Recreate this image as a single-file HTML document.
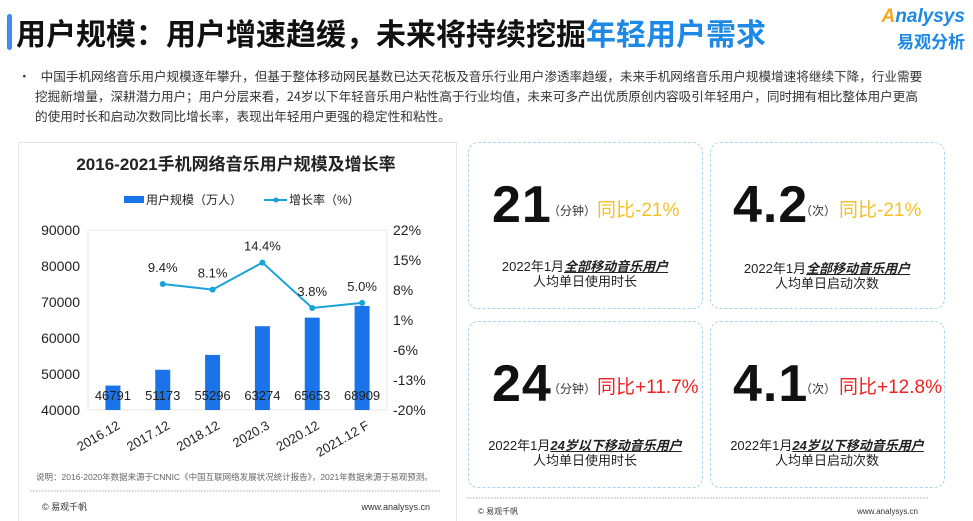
<!DOCTYPE html>
<html><head><meta charset="utf-8">
<style>
body{margin:0;width:973px;height:520px;overflow:hidden;background:#fff;font-family:"Liberation Sans","Noto Sans CJK SC",sans-serif;position:relative;color:#222}
.abs{position:absolute}
.card{position:absolute;border:1.5px dashed #a9d3ee;border-radius:10px;background:rgba(255,255,255,0.9)}
.big{position:absolute;font-size:52px;font-weight:bold;color:#111;letter-spacing:1px}
.unit{position:absolute;font-size:12px;color:#333}
.yoy{position:absolute;font-size:19px}
.desc{position:absolute;width:234px;text-align:center;font-size:13px;line-height:15px;color:#222}
.desc i{font-weight:bold;text-decoration:underline}
</style></head><body>
<div class="abs" style="left:7px;top:14px;width:5px;height:36px;background:#3d8cf0;border-radius:3px"></div>
<div class="abs" style="left:16px;top:10px;font-size:30px;font-weight:bold;color:#111;font-family:'Noto Sans CJK SC',sans-serif">用户规模：用户增速趋缓，未来将持续挖掘<span style="color:#1e88e5">年轻用户需求</span></div>
<div class="abs" style="left:865px;top:6px;text-align:right;width:100px">
<div style="font-size:19px;font-style:italic;color:#1e88e5;font-weight:bold"><span style="color:#f5a623">A</span>nalysys</div>
<div style="font-size:17px;color:#1e88e5;font-weight:bold;font-family:'Noto Sans CJK SC',sans-serif">易观分析</div></div>
<div class="abs" style="left:18px;top:66px;width:940px;font-size:12.6px;line-height:20px;color:#333;font-family:'Noto Sans CJK SC',sans-serif">
<span style="margin-right:10px">•</span>中国手机网络音乐用户规模逐年攀升，但基于整体移动网民基数已达天花板及音乐行业用户渗透率趋缓，未来手机网络音乐用户规模增速将继续下降，行业需要<br><span style="margin-left:17px">挖掘新增量，深耕潜力用户；用户分层来看，24岁以下年轻音乐用户粘性高于行业均值，未来可多产出优质原创内容吸引年轻用户，同时拥有相比整体用户更高</span><br><span style="margin-left:17px">的使用时长和启动次数同比增长率，表现出年轻用户更强的稳定性和粘性。</span></div>

<div class="abs" style="left:18px;top:142px;width:437px;height:378px;border:1px solid #e4e4e4;border-bottom:none"></div>
<svg class="abs" style="left:0;top:0" width="973" height="520" id="chart">
<text x="236" y="170" text-anchor="middle" font-size="17" font-weight="bold" fill="#222" font-family="Liberation Sans,Noto Sans CJK SC,sans-serif">2016-2021手机网络音乐用户规模及增长率</text>
<g font-size="12" fill="#222" font-family="Liberation Sans,Noto Sans CJK SC,sans-serif">
<rect x="124" y="196" width="20" height="7" fill="#1a73e8"/>
<text x="146" y="204">用户规模（万人）</text>
<line x1="264" y1="200" x2="287" y2="200" stroke="#17a2d8" stroke-width="2"/><circle cx="276" cy="200" r="2.5" fill="#17a2d8"/>
<text x="289" y="204">增长率（%）</text>
</g>
<g id="plot"></g>
<text x="36" y="480" font-size="8.5" fill="#666" font-family="Liberation Sans,Noto Sans CJK SC,sans-serif">说明：2016-2020年数据来源于CNNIC《中国互联网络发展状况统计报告》，2021年数据来源于易观预测。</text>
<line x1="30" y1="491" x2="440" y2="491" stroke="#aaa" stroke-dasharray="1.5,1.5"/>
<text x="42" y="510" font-size="9" fill="#333" font-family="Liberation Sans,Noto Sans CJK SC,sans-serif">© 易观千帆</text>
<text x="430" y="510" font-size="9" text-anchor="end" fill="#333" font-family="Liberation Sans,sans-serif">www.analysys.cn</text>
<line x1="467" y1="498" x2="928" y2="498" stroke="#aaa" stroke-dasharray="1.5,1.5"/>
<text x="478" y="514" font-size="8" fill="#333" font-family="Liberation Sans,Noto Sans CJK SC,sans-serif">© 易观千帆</text>
<text x="918" y="514" font-size="8" text-anchor="end" fill="#333" font-family="Liberation Sans,sans-serif">www.analysys.cn</text>
</svg>

<div class="card" style="left:468px;top:142px;width:233px;height:165px"></div>
<div class="card" style="left:710px;top:142px;width:233px;height:165px"></div>
<div class="card" style="left:468px;top:321px;width:233px;height:165px"></div>
<div class="card" style="left:710px;top:321px;width:233px;height:165px"></div>

<div class="big" style="left:492px;top:175px">21</div>
<div class="unit" style="left:548px;top:202px">（分钟）</div>
<div class="yoy" style="left:597px;top:195px;color:#f5c026">同比-21%</div>
<div class="desc" style="left:468px;top:259px">2022年1月<i>全部移动音乐用户</i><br>人均单日使用时长</div>

<div class="big" style="left:733px;top:175px">4.2</div>
<div class="unit" style="left:800px;top:202px">（次）</div>
<div class="yoy" style="left:839px;top:195px;color:#f5c026">同比-21%</div>
<div class="desc" style="left:710px;top:261px">2022年1月<i>全部移动音乐用户</i><br>人均单日启动次数</div>

<div class="big" style="left:492px;top:354px">24</div>
<div class="unit" style="left:548px;top:380px">（分钟）</div>
<div class="yoy" style="left:597px;top:372px;color:#ee2222">同比+11.7%</div>
<div class="desc" style="left:468px;top:438px">2022年1月<i>24岁以下移动音乐用户</i><br>人均单日使用时长</div>

<div class="big" style="left:733px;top:354px">4.1</div>
<div class="unit" style="left:800px;top:380px">（次）</div>
<div class="yoy" style="left:839px;top:372px;color:#ee2222">同比+12.8%</div>
<div class="desc" style="left:710px;top:438px">2022年1月<i>24岁以下移动音乐用户</i><br>人均单日启动次数</div>

<script>
const categories=["2016.12","2017.12","2018.12","2020.3","2020.12","2021.12 F"];
const users=[46791,51173,55296,63274,65653,68909];
const growth=[null,9.4,8.1,14.4,3.8,5.0];
const leftTicks=[40000,50000,60000,70000,80000,90000];
const rightTicks=[-20,-13,-6,1,8,15,22];
const X0=88,X1=387,YT=230,YB=410;
const ns="http://www.w3.org/2000/svg";
const g=document.getElementById('plot');
const bw=(X1-X0)/categories.length;
const xc=i=>X0+bw*(i+0.5);
const yL=v=>YB-(v-40000)/(90000-40000)*(YB-YT);
const yR=v=>YB-(v+20)/42*(YB-YT);
function mk(t,a){const e=document.createElementNS(ns,t);for(const k in a)e.setAttribute(k,a[k]);g.appendChild(e);return e;}
const fam="Liberation Sans,sans-serif";
const frame=mk('rect',{x:X0,y:YT,width:X1-X0,height:YB-YT,fill:'none',stroke:'#e6e6e6'});


leftTicks.forEach(v=>{const t=mk('text',{x:80,y:yL(v)+5,'text-anchor':'end','font-size':14,fill:'#222','font-family':fam});t.textContent=v;

});
rightTicks.forEach(v=>{const t=mk('text',{x:393,y:yR(v)+5,'font-size':14,fill:'#222','font-family':fam});t.textContent=v+'%';

});
users.forEach((v,i)=>{const r=mk('rect',{x:xc(i)-7.5,y:yL(v),width:15,height:YB-yL(v),fill:'#1a73e8'});


const t=mk('text',{x:xc(i),y:400,'text-anchor':'middle','font-size':13,fill:'#222','font-family':fam});t.textContent=v;


const c=mk('text',{x:0,y:0,'text-anchor':'end','font-size':13,fill:'#222','font-family':fam,transform:`translate(${xc(i)+8},${428}) rotate(-30)`});c.textContent=categories[i];

});
let d='';growth.forEach((v,i)=>{if(v===null)return;d+=(d?'L':'M')+xc(i)+','+yR(v);});
const p=mk('path',{d:d,fill:'none',stroke:'#17a2d8','stroke-width':2});


growth.forEach((v,i)=>{if(v===null)return;const c=mk('circle',{cx:xc(i),cy:yR(v),r:3,fill:'#17a2d8'});


const t=mk('text',{x:xc(i),y:yR(v)-12,'text-anchor':'middle','font-size':13,fill:'#222','font-family':fam});t.textContent=v.toFixed(1)+'%';

});
</script>
</body></html>
